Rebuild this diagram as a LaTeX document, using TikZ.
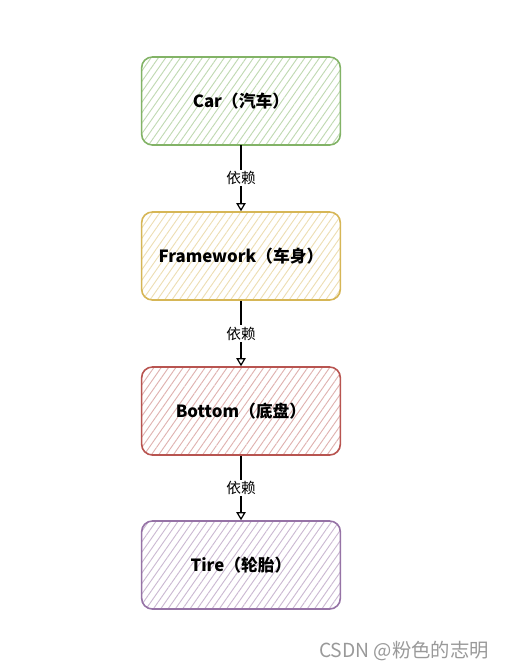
\documentclass[tikz,border=0pt]{standalone}
\usepackage{fontspec}
\setmainfont{Noto Sans CJK SC}
\usepackage{tikz}
\usetikzlibrary{arrows.meta,patterns.meta}
\definecolor{carline}{HTML}{82B366}
\definecolor{frameline}{HTML}{D6B656}
\definecolor{bottomline}{HTML}{B85450}
\definecolor{tireline}{HTML}{9673A6}
\tikzstyle{part}=[draw, shape=rectangle, rounded corners=8, line width=1.2pt, minimum width=149pt, minimum height=66pt, font=\fontsize{12.6}{14}\selectfont\bfseries]
\tikzstyle{car}=[style=part, draw=carline, pattern={Lines[angle=55, distance=4.5pt, line width=0.7pt]}, pattern color=carline!50]
\tikzstyle{frame}=[style=part, draw=frameline, pattern={Lines[angle=55, distance=4.5pt, line width=0.7pt]}, pattern color=frameline!45]
\tikzstyle{bottom}=[style=part, draw=bottomline, pattern={Lines[angle=55, distance=4.5pt, line width=0.7pt]}, pattern color=bottomline!45]
\tikzstyle{tire}=[style=part, draw=tireline, pattern={Lines[angle=55, distance=4.5pt, line width=0.7pt]}, pattern color=tireline!50]
\tikzstyle{dep}=[-{Triangle[open, length=6pt, width=7pt]}, draw=black, line width=0.9pt]
\tikzstyle{lbl}=[fill=white, inner sep=1pt, font=\fontsize{11}{12}\selectfont]
\begin{document}
\begin{tikzpicture}[x=0.75pt, y=-0.75pt]
    	\useasboundingbox (0, 0) rectangle (505, 671);
    	\node [style=car] (0) at (241, 101) {Car（汽车）};
    	\node [style=frame] (1) at (241, 256) {Framework（车身）};
    	\node [style=bottom] (2) at (241, 411) {Bottom（底盘）};
    	\node [style=tire] (3) at (241, 565) {Tire（轮胎）};
    	\node [text=black!40, font=\fontsize{14.5}{16}\selectfont] (4) at (404, 651) {CSDN @粉色的志明};
    	\draw [style=dep] (0) to node [style=lbl] {依赖} (1);
    	\draw [style=dep] (1) to node [style=lbl] {依赖} (2);
    	\draw [style=dep] (2) to node [style=lbl] {依赖} (3);
    \end{tikzpicture}
\end{document}
